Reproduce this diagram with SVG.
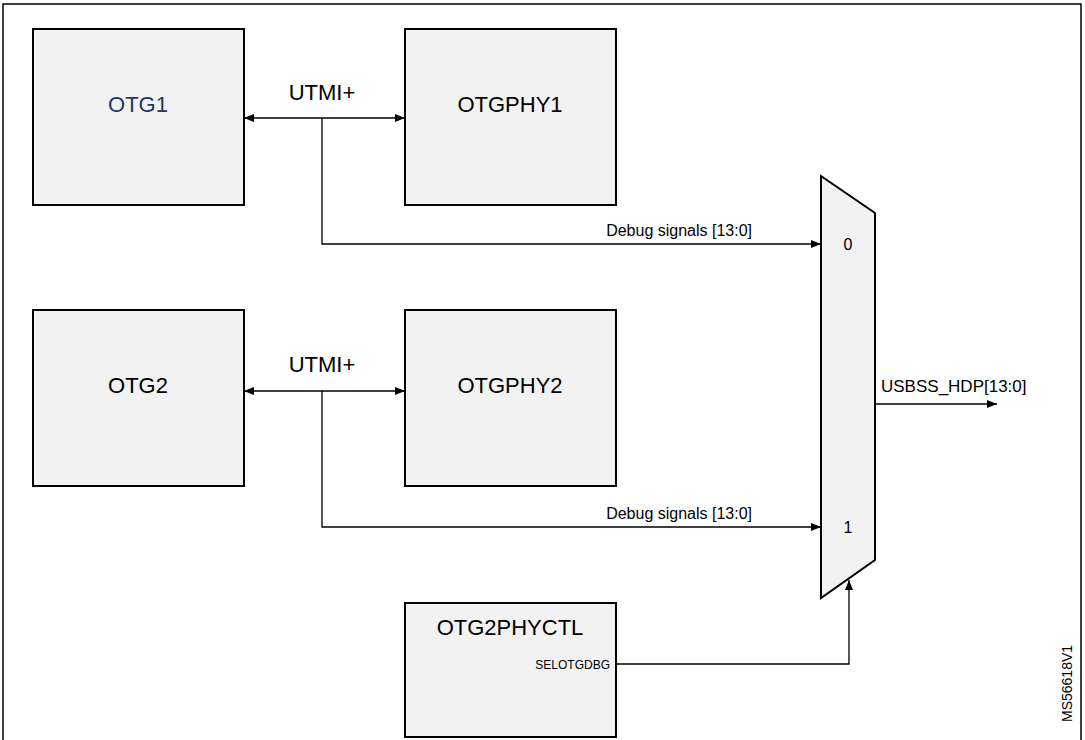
<svg xmlns="http://www.w3.org/2000/svg" width="1085" height="740" viewBox="0 0 1085 740">
<defs>
<marker id="ah" markerWidth="10" markerHeight="8" refX="10" refY="4" orient="auto-start-reverse" markerUnits="userSpaceOnUse"><path d="M0,0 L10,4 L0,8 z" fill="#000"/></marker>
<style>
.box{fill:#f2f2f2;stroke:#000;stroke-width:2}
.t{font-family:"Liberation Sans",Arial,sans-serif;font-size:22px;fill:#000}
.s{font-family:"Liberation Sans",Arial,sans-serif;font-size:16px;fill:#000}
.w{fill:none;stroke:#000;stroke-width:1.3}
</style>
</defs>
<rect width="1085" height="740" fill="#fff"/>
<rect x="3" y="4" width="1078" height="740" fill="none" stroke="#000" stroke-width="1.5"/>
<g id="otg1"><rect class="box" x="33" y="29" width="211" height="176"/><text class="t" x="138" y="112" text-anchor="middle" style="fill:#1f3864">OTG1</text></g>
<g id="otgphy1"><rect class="box" x="405" y="29" width="211" height="176"/><text class="t" x="510" y="112" text-anchor="middle">OTGPHY1</text></g>
<g id="otg2"><rect class="box" x="33" y="310" width="211" height="176"/><text class="t" x="138" y="393" text-anchor="middle">OTG2</text></g>
<g id="otgphy2"><rect class="box" x="405" y="310" width="211" height="176"/><text class="t" x="510" y="393" text-anchor="middle">OTGPHY2</text></g>
<g id="otg2phyctl"><rect class="box" x="405" y="603" width="211" height="134"/><text class="t" x="510" y="635" text-anchor="middle">OTG2PHYCTL</text><text class="s" x="610" y="669" text-anchor="end" style="font-size:12px">SELOTGDBG</text></g>
<g id="mux"><polygon class="box" points="821,176 875,213 875,560 821,598"/><text class="s" x="848" y="250" text-anchor="middle">0</text><text class="s" x="848" y="533" text-anchor="middle">1</text></g>
<g id="connectors">
<line class="w" x1="244" y1="118" x2="405" y2="118" marker-start="url(#ah)" marker-end="url(#ah)"/>
<polyline class="w" points="322,118 322,244 821,244" marker-end="url(#ah)"/>
<line class="w" x1="244" y1="391" x2="405" y2="391" marker-start="url(#ah)" marker-end="url(#ah)"/>
<polyline class="w" points="322,391 322,527 821,527" marker-end="url(#ah)"/>
<polyline class="w" points="616,664 849,664 849,580" marker-end="url(#ah)"/>
<line class="w" x1="875" y1="404" x2="997" y2="404" marker-end="url(#ah)"/>
</g>
<text class="t" x="322" y="100" text-anchor="middle">UTMI+</text>
<text class="t" x="322" y="372" text-anchor="middle">UTMI+</text>
<text class="s" x="752" y="236" text-anchor="end">Debug signals [13:0]</text>
<text class="s" x="752" y="519" text-anchor="end">Debug signals [13:0]</text>
<text class="s" x="881" y="392" style="font-size:17px">USBSS_HDP[13:0]</text>
<text class="s" x="1072" y="722" transform="rotate(-90 1072 722)" style="font-size:14px">MS56618V1</text>
</svg>
